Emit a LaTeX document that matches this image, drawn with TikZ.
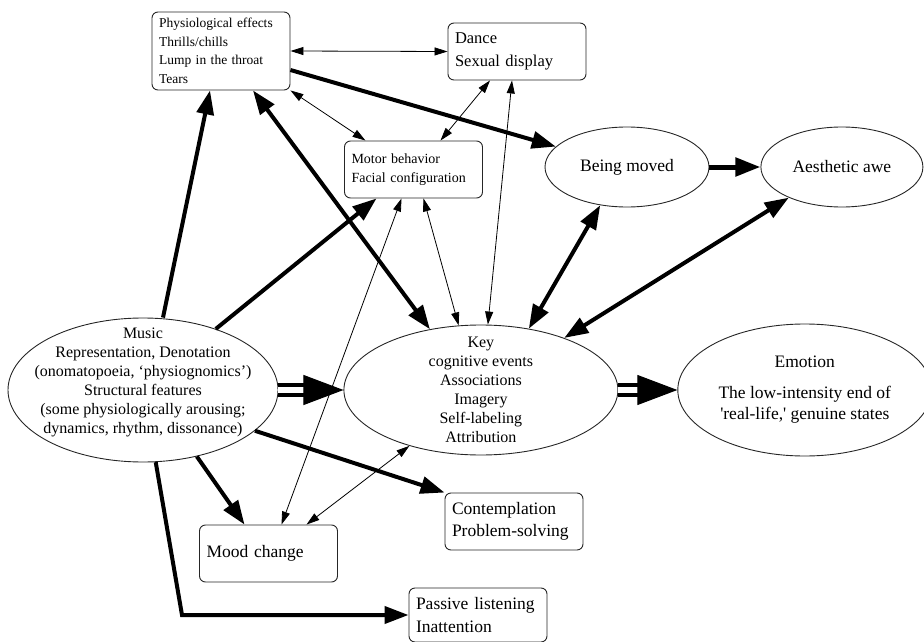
\documentclass[tikz,border=0pt]{standalone}
\usepackage{fontspec}
\setmainfont{Liberation Serif}
\usepackage{xcolor}
\colorlet{colorLine}{black!85}
\colorlet{colorArrow}{black}
\usepackage{tikz}
\usetikzlibrary{arrows.meta, shapes.geometric, positioning}
\tikzset{
  box/.style={draw=colorLine, line width=0.9pt, rounded corners=6pt, align=left, text width=124pt, inner xsep=7pt, inner ysep=2pt, minimum height=57pt},
  oval/.style={draw=colorLine, line width=0.9pt, ellipse, inner sep=-60pt, align=center},
  lightarr/.style={>={Triangle[length=13pt,width=8pt]}, <->, line width=0.8pt, colorArrow},
  heavyarr/.style={>={Triangle[length=24pt,width=17pt]}, ->, line width=4pt, colorArrow},
  heavyboth/.style={>={Triangle[length=24pt,width=17pt]}, <->, line width=4pt, colorArrow},
  dblshaft/.style={double, double distance=6pt, line width=4pt, shorten >=36pt, colorArrow},
  dblhead/.style={white, line width=1pt, -{Triangle[length=40pt,width=30pt,color=colorArrow]}}
}

\begin{document}
\begin{tikzpicture}[x=1pt, y=-1pt]
\useasboundingbox (0,0) rectangle (924,642);
\node[box, minimum height=78pt, font=\fontsize{13.5}{18.5}\selectfont] (phys) at (221,51) {Physiological effects\\Thrills/chills\\Lump in the throat\\Tears};
\node[box, font=\fontsize{16.5}{23}\selectfont] (dance) at (517,51.5) {Dance\\Sexual display};
\node[box, font=\fontsize{14}{18.5}\selectfont] (motor) at (413.5,169.5) {Motor behavior\\Facial configuration};
\node[oval, minimum width=164pt, minimum height=80pt, font=\fontsize{17.5}{21}\selectfont] (moved) at (627,167) {Being moved};
\node[oval, minimum width=162pt, minimum height=80pt, right=51pt of moved, font=\fontsize{17.5}{21}\selectfont] (awe) {Aesthetic awe};
\node[oval, minimum width=270pt, minimum height=144pt, font=\fontsize{16}{19}\selectfont] (music) at (143,390) {Music\\Representation, Denotation\\(onomatopoeia, `physiognomics')\\Structural features\\(some physiologically arousing;\\dynamics, rhythm, dissonance)\\\mbox{}};
\node[oval, minimum width=274pt, minimum height=130pt, right=65pt of music, font=\fontsize{16}{19}\selectfont] (key) {Key\\cognitive events\\Associations\\Imagery\\Self-labeling\\Attribution};
\node[oval, minimum width=254pt, minimum height=132pt, right=59pt of key, font=\fontsize{17.5}{21}\selectfont] (emotion) {Emotion\\[10pt]The low-intensity end of\\\textquotesingle real-life,\textquotesingle{} genuine states};
\node[box, font=\fontsize{17.5}{21}\selectfont] (mood) at (268.5,553.5) {Mood change};
\node[box, font=\fontsize{17.5}{22}\selectfont] (contemp) at (514,521.5) {Contemplation\\Problem-solving};
\node[box, minimum height=54pt, font=\fontsize{17.5}{23}\selectfont] (passive) at (478,615) {Passive listening\\Inattention};
\coordinate (turn) at (182,615);

\draw[heavyarr] ([xshift=20pt]music.north) -- ([xshift=-11pt]phys.south);
\draw[heavyarr] (music.40) -- ([xshift=-37pt]motor.south);
\draw[heavyarr] (music.-20) -- (contemp.north west);
\draw[heavyarr] (music.-51) -- ([xshift=-24pt]mood.north);
\draw[heavyarr] (music.-80) -- (turn) -- (passive.west);
\draw[heavyboth] ([xshift=32pt]phys.south) -- (key.130);
\draw[heavyarr] ([yshift=-19pt]phys.east) -- (moved.164);
\draw[heavyboth] (key.52) -- (moved.-125);
\draw[heavyboth] (key.32) -- (awe.-150);
\draw[heavyarr, line width=5pt, -{Triangle[length=25pt,width=18pt]}] (moved) -- (awe);
\draw[lightarr] (phys.east) -- (dance.west);
\draw[lightarr] (phys.south east) -- ([xshift=-48pt]motor.north);
\draw[lightarr] ([xshift=-27pt]dance.south) -- ([xshift=27pt]motor.north);
\draw[lightarr] ([xshift=-5pt]dance.south) -- ([xshift=7pt]key.north);
\draw[lightarr] ([xshift=10pt]motor.south) -- (key.109);
\draw[lightarr] ([xshift=-12pt]motor.south) -- ([xshift=13pt]mood.north);
\draw[lightarr] ([xshift=38pt]mood.north) -- (key.218);
\draw[dblshaft] (music) -- (key);
\draw[dblhead] (music) -- (key);
\draw[dblshaft] (key) -- (emotion);
\draw[dblhead] (key) -- (emotion);
\end{tikzpicture}
\end{document}
